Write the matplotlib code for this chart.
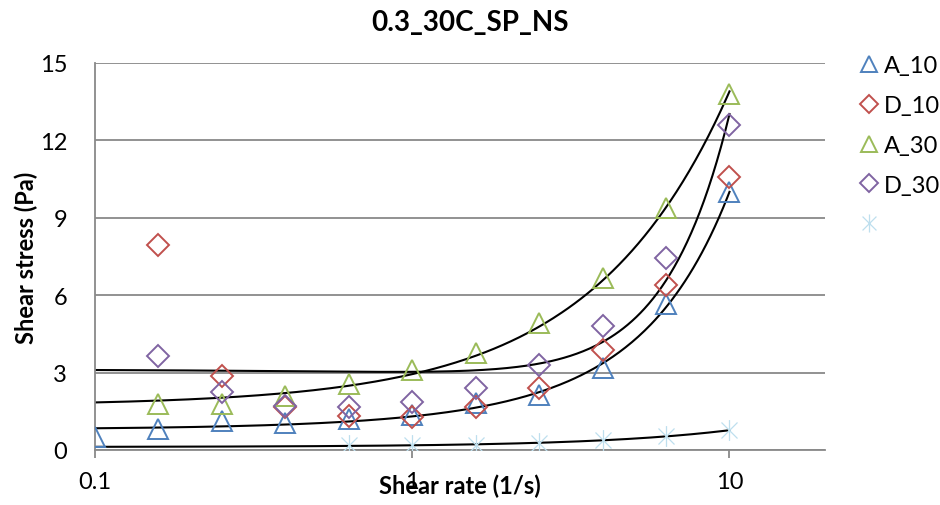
import numpy as np
import matplotlib.pyplot as plt
from matplotlib.lines import Line2D
from matplotlib.path import Path

plt.rcParams['font.family'] = ['Lato', 'DejaVu Sans']

# shear rates (1/s)
rate = [0.1, 0.158, 0.251, 0.398, 0.631, 1.0, 1.585, 2.512, 3.981, 6.31, 10.0]

a10 = [0.49, 0.81, 1.12, 1.06, 1.2, 1.35, 1.82, 2.14, 3.17, 5.65, 9.99]
d10 = [7.95, 2.88, 1.65, 1.33, 1.27, 1.68, 2.39, 3.88, 6.40, 10.6]
a30 = [1.78, 1.8, 2.09, 2.56, 3.12, 3.75, 4.92, 6.67, 9.39, 13.81]
d30 = [3.63, 2.23, 1.69, 1.65, 1.87, 2.39, 3.29, 4.79, 7.45, 12.6]
star = [0.18, 0.18, 0.18, 0.29, 0.38, 0.54, 0.76]

x_a10 = rate
x_d = rate[1:]
x_star = rate[4:]

# D_30 trendline (poly order 2), highest power first
trend_d30 = [0.12, -0.21, 3.12]

blue = '#4F81BD'
red = '#C0504D'
green = '#9BBB59'
purple = '#8064A2'
pale = '#BEDFEE'
gridc = '#898989'

# excel style asterisk: x plus a vertical bar
ast = Path([(-1, -1), (1, 1), (-1, 1), (1, -1), (0, -1.3), (0, 1.3)],
           [Path.MOVETO, Path.LINETO, Path.MOVETO, Path.LINETO, Path.MOVETO, Path.LINETO])

fig = plt.figure(figsize=(9.4, 5.06), dpi=100)
ax = fig.add_axes([95/940, 1-451/506, (825-95)/940, (451-64)/506])

xx = np.logspace(-1, 1, 300)
fits = [np.polyfit(x_a10, a10, 2), np.polyfit(x_d, a30, 1), trend_d30,
        np.polyfit(x_star, star, 1)]
for p in fits:
    ax.plot(xx, np.polyval(p, xx), color='black', lw=1.5, zorder=2)

mk = dict(linestyle='none', markerfacecolor='none', markeredgewidth=1.4, zorder=3)
ax.plot(x_a10, a10, marker='^', markersize=14, markeredgecolor=blue, **mk)
ax.plot(x_d, d10, marker='D', markersize=11, markeredgecolor=red, **mk)
ax.plot(x_d, a30, marker='^', markersize=14, markeredgecolor=green, **mk)
ax.plot(x_d, d30, marker='D', markersize=11, markeredgecolor=purple, **mk)
ax.plot(x_star, star, marker=ast, markersize=15, markeredgecolor=pale,
        linestyle='none', markeredgewidth=0.9, zorder=3)

ax.set_xscale('log')
ax.set_xlim(0.1, 20)
ax.set_ylim(0, 15)
ax.set_yticks([0, 3, 6, 9, 12, 15])
ax.set_xticks([0.1, 1, 10])
ax.set_xticklabels(['0.1', '1', '10'])
ax.xaxis.set_minor_locator(plt.NullLocator())
ax.grid(axis='y', color=gridc, lw=1.3)
ax.set_axisbelow(True)
for s in ['top', 'right']:
    ax.spines[s].set_visible(False)
for s in ['left', 'bottom']:
    ax.spines[s].set_color(gridc)
    ax.spines[s].set_linewidth(1.3)
ax.tick_params(axis='y', length=0, pad=20, labelsize=17)
ax.tick_params(axis='x', length=6, color=gridc, width=1.3, pad=9, labelsize=17)

ax.set_xlabel('Shear rate (1/s)', fontsize=17, fontweight='bold')
ax.xaxis.set_label_coords(0.5, -0.062)
ax.set_ylabel('Shear stress (Pa)', fontsize=17, fontweight='bold')
ax.yaxis.set_label_coords(-0.078, 0.5)
fig.text(0.5, 1-23/506, '0.3_30C_SP_NS', fontsize=20, fontweight='bold',
         ha='center', va='center')

handles = [
    Line2D([], [], marker='^', markersize=12, markeredgecolor=blue, **mk),
    Line2D([], [], marker='D', markersize=9, markeredgecolor=red, **mk),
    Line2D([], [], marker='^', markersize=12, markeredgecolor=green, **mk),
    Line2D([], [], marker='D', markersize=9, markeredgecolor=purple, **mk),
    Line2D([], [], marker=ast, markersize=13, markeredgecolor=pale,
           linestyle='none', markeredgewidth=0.9),
]
labels = ['A_10', 'D_10', 'A_30', 'D_30', ' ']
fig.legend(handles, labels, loc='upper left', bbox_to_anchor=(860/940, 1-56/506),
           frameon=False, fontsize=17, handlelength=0.8, handletextpad=0.2,
           labelspacing=0.8, borderaxespad=0, borderpad=0)

fig.savefig('out.png', dpi=100)
